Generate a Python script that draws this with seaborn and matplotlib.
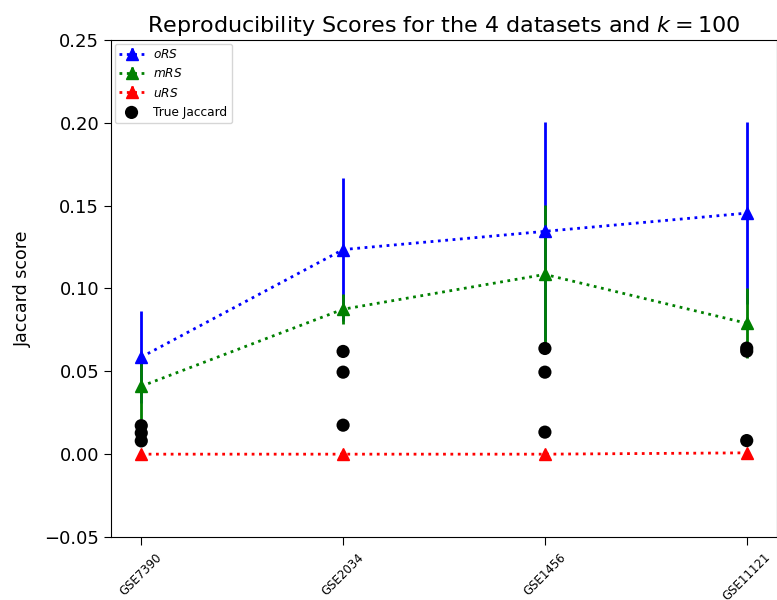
import numpy as np
import pandas as pd
import matplotlib
matplotlib.use('Agg')
import matplotlib.pyplot as plt
import seaborn as sns

sns.set_style('ticks', {'axes.edgecolor': 'black', 'text.color': 'black',
                        'axes.labelcolor': 'black', 'xtick.color': 'black',
                        'ytick.color': 'black'})
plt.rcParams['font.family'] = ['DejaVu Sans']

datasets = ['GSE7390', 'GSE2034', 'GSE1456', 'GSE11121']

ors_mean = [0.0586, 0.1235, 0.1345, 0.1455]
ors_err = [0.028, 0.043, 0.066, 0.055]
mrs_mean = [0.0410, 0.0875, 0.1085, 0.0790]
mrs_err = [0.020, 0.009, 0.042, 0.021]
urs_mean = [0.0, 0.0, 0.0, 0.0008]
urs_err = [0.0, 0.0, 0.0, 0.0]

true_jaccard = {
    'GSE7390': [0.0172, 0.0128, 0.0080],
    'GSE2034': [0.0620, 0.0495, 0.0175],
    'GSE1456': [0.0638, 0.0495, 0.0133],
    'GSE11121': [0.0640, 0.0622, 0.0082],
}

pos = np.arange(len(datasets))
tj = pd.DataFrame([(i, v) for i, d in enumerate(datasets) for v in true_jaccard[d]],
                  columns=['x', 'jaccard'])

fig = plt.figure(figsize=(7.77, 6), dpi=100)
ax = fig.add_axes([111 / 777, 63 / 600, 666 / 777, 497 / 600])

series = [
    (ors_mean, ors_err, 'blue', '$oRS$'),
    (mrs_mean, mrs_err, 'green', '$mRS$'),
    (urs_mean, urs_err, 'red', '$uRS$'),
]
for mean, err, color, label in series:
    ax.errorbar(pos, mean, yerr=err, fmt='^:', color=color, label=label,
                linewidth=2, elinewidth=2, markersize=8)

sns.scatterplot(data=tj, x='x', y='jaccard', color='black', s=90,
                edgecolor='none', label='True Jaccard', ax=ax, zorder=3)

ax.set_xticks(pos)
ax.set_xticklabels(datasets, rotation=45, fontsize=8.5)
ax.set_xlim(-0.15, 3.15)
ax.set_ylim(-0.05, 0.25)
ax.tick_params(axis='y', labelsize=13, length=5)
ax.tick_params(axis='x', length=6, pad=4)
ax.set_xlabel('')
ax.set_ylabel('Jaccard score', fontsize=12.5, labelpad=9)
ax.set_title('Reproducibility Scores for the 4 datasets and $k = 100$', fontsize=16)

handles, labels = ax.get_legend_handles_labels()
order = [labels.index(l) for l in ['$oRS$', '$mRS$', '$uRS$', 'True Jaccard']]
ax.legend([handles[i] for i in order], [labels[i] for i in order],
          loc='upper left', fontsize=8.7, frameon=True, borderaxespad=0.3)
sns.despine(ax=ax, top=False, right=False)

fig.savefig('out.png', dpi=100)
